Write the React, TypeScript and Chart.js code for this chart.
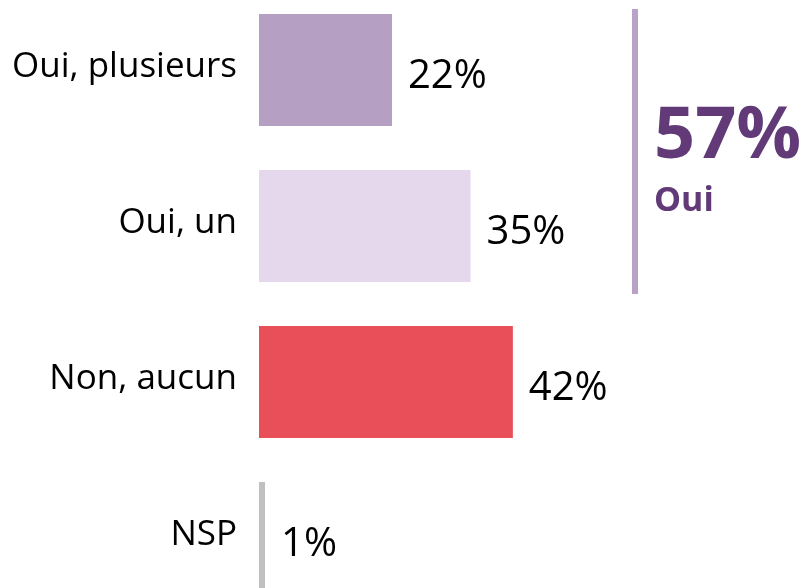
import React, { useEffect, useRef } from "react";
import { Chart, registerables } from "chart.js";

Chart.register(...registerables);

const categories = ["Oui, plusieurs", "Oui, un", "Non, aucun", "NSP"];
const values = [22, 35, 42, 1];
const barColors = ["#b59fc3", "#e6d8ec", "#e84f58", "#c0c0c0"];
const totalLabel = "Oui";
const ouiIndexes = [0, 1];

const FONT = "'Open Sans', 'Noto Sans', sans-serif";

const labelsPlugin = {
  id: "customLabels",
  afterDatasetsDraw(chart: any) {
    const ctx = chart.ctx;
    const meta = chart.getDatasetMeta(0);
    const yScale = chart.scales.y;
    ctx.save();
    // category labels
    ctx.fillStyle = "#000";
    ctx.font = `35px ${FONT}`;
    ctx.textAlign = "right";
    ctx.textBaseline = "alphabetic";
    categories.forEach((c, i) => {
      const y = yScale.getPixelForValue(i);
      ctx.fillText(c, 237, y + 7);
    });
    // value labels
    ctx.font = `40px ${FONT}`;
    ctx.textAlign = "left";
    meta.data.forEach((bar: any, i: number) => {
      ctx.fillText(values[i] + "%", bar.x + 16, bar.y + 18);
    });
    // bracket line
    const top = yScale.getPixelForValue(ouiIndexes[0]) - 61;
    const bottom = yScale.getPixelForValue(ouiIndexes[ouiIndexes.length - 1]) + 68;
    ctx.fillStyle = "#b8a2c8";
    ctx.fillRect(632, top, 6, bottom - top);
    // total
    const total = ouiIndexes.reduce((s, i) => s + values[i], 0);
    ctx.fillStyle = "#613a77";
    ctx.font = `bold 72px ${FONT}`;
    ctx.fillText(total + "%", 654, 166);
    ctx.font = `bold 34px ${FONT}`;
    ctx.fillText(totalLabel, 654, 219);
    ctx.restore();
  },
};

export default function App() {
  const ref = useRef<HTMLCanvasElement>(null);
  useEffect(() => {
    if (!ref.current) return;
    const chart = new Chart(ref.current, {
      type: "bar",
      data: {
        labels: categories,
        datasets: [
          {
            data: values,
            backgroundColor: barColors,
            borderWidth: 0,
            categoryPercentage: 1,
            barPercentage: 112 / 156,
          },
        ],
      },
      options: {
        indexAxis: "y",
        animation: false,
        responsive: false,
        maintainAspectRatio: false,
        layout: { padding: { left: 259, right: 2, top: 0, bottom: 0 } },
        plugins: { legend: { display: false }, tooltip: { enabled: false } },
        scales: {
          x: { display: false, min: 0, max: 90 },
          y: { display: false, offset: true },
        },
      },
      plugins: [labelsPlugin],
    });
    return () => chart.destroy();
  }, []);
  return (
    <div
      style={{
        position: "fixed",
        left: 0,
        top: 0,
        width: 805,
        height: 588,
        overflow: "hidden",
        background: "#fff",
      }}
    >
      <canvas
        ref={ref}
        width={805}
        height={624}
        style={{ position: "absolute", left: 0, top: -8, width: 805, height: 624 }}
      />
    </div>
  );
}
